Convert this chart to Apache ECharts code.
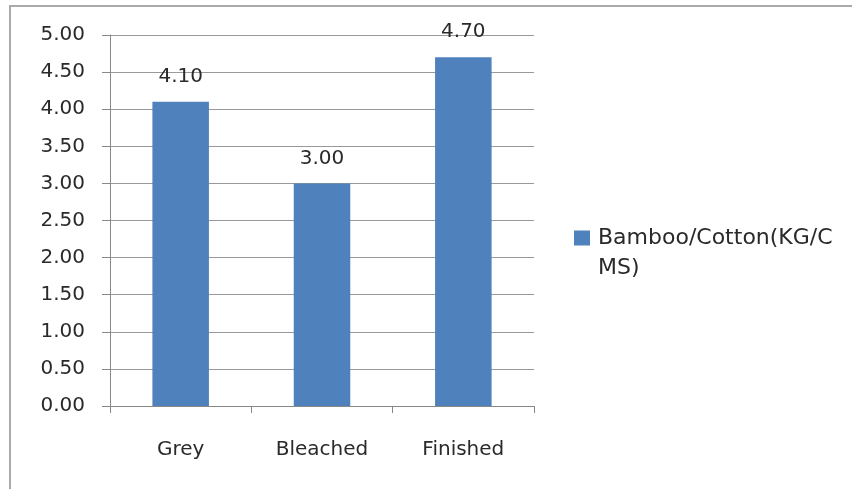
<!DOCTYPE html>
<html>
<head>
<meta charset="utf-8">
<script src="https://cdn.jsdelivr.net/npm/echarts@6/dist/echarts.min.js"></script>
<style>
  html, body { margin: 0; padding: 0; background: #fff; }
  #frame { position: absolute; left: 9px; top: 5px; width: 900px; height: 600px;
           border-left: 2px solid #aaaaaa; border-top: 2px solid #aaaaaa; }
  #chart { position: absolute; left: 0; top: 0; width: 852px; height: 489px; }
</style>
</head>
<body>
<div id="frame"></div>
<div id="chart"></div>
<script>
const categories = ['Grey', 'Bleached', 'Finished'];
const seriesName = 'Bamboo/Cotton(KG/CMS)';
const values = [4.10, 3.00, 4.70];
const yTicks = { min: 0, max: 5, interval: 0.5 };

const chart = echarts.init(document.getElementById('chart'));
const font = 'DejaVu Sans';
const textColor = '#2a2a2a';
chart.setOption({
  animation: false,
  backgroundColor: 'transparent',
  grid: { left: 110, right: 318, top: 35, bottom: 83 },
  legend: {
    orient: 'vertical',
    left: 569, top: 188,
    itemWidth: 16, itemHeight: 15, itemGap: 6,
    icon: 'rect',
    data: [seriesName],
    // wrap the long name; a leading empty line keeps the icon level with the first text line
    formatter: n => '\n' + n.slice(0, 18) + '\n' + n.slice(18),
    textStyle: { fontFamily: font, fontSize: 22, color: textColor, lineHeight: 30, padding: [0, 0, 0, 3] }
  },
  xAxis: {
    type: 'category',
    data: categories,
    axisLine: { lineStyle: { color: '#888', width: 1 } },
    axisTick: { show: true, length: 7, lineStyle: { color: '#888' } },
    axisLabel: { fontFamily: font, fontSize: 20, color: textColor, margin: 34 }
  },
  yAxis: {
    type: 'value',
    min: yTicks.min, max: yTicks.max, interval: yTicks.interval,
    axisLine: { show: true, lineStyle: { color: '#888', width: 1 } },
    axisTick: { show: true, length: 8, lineStyle: { color: '#888' } },
    splitLine: { lineStyle: { color: '#999', width: 1 } },
    axisLabel: { fontFamily: font, fontSize: 20, color: textColor, margin: 25,
                 formatter: v => v.toFixed(2) }
  },
  series: [{
    name: seriesName,
    type: 'bar',
    data: values,
    barWidth: '40%',
    itemStyle: { color: '#4F81BD' },
    label: {
      show: true, position: 'top', distance: 15,
      fontFamily: font, fontSize: 20, color: textColor,
      formatter: p => p.value.toFixed(2)
    }
  }]
});
</script>
</body>
</html>
